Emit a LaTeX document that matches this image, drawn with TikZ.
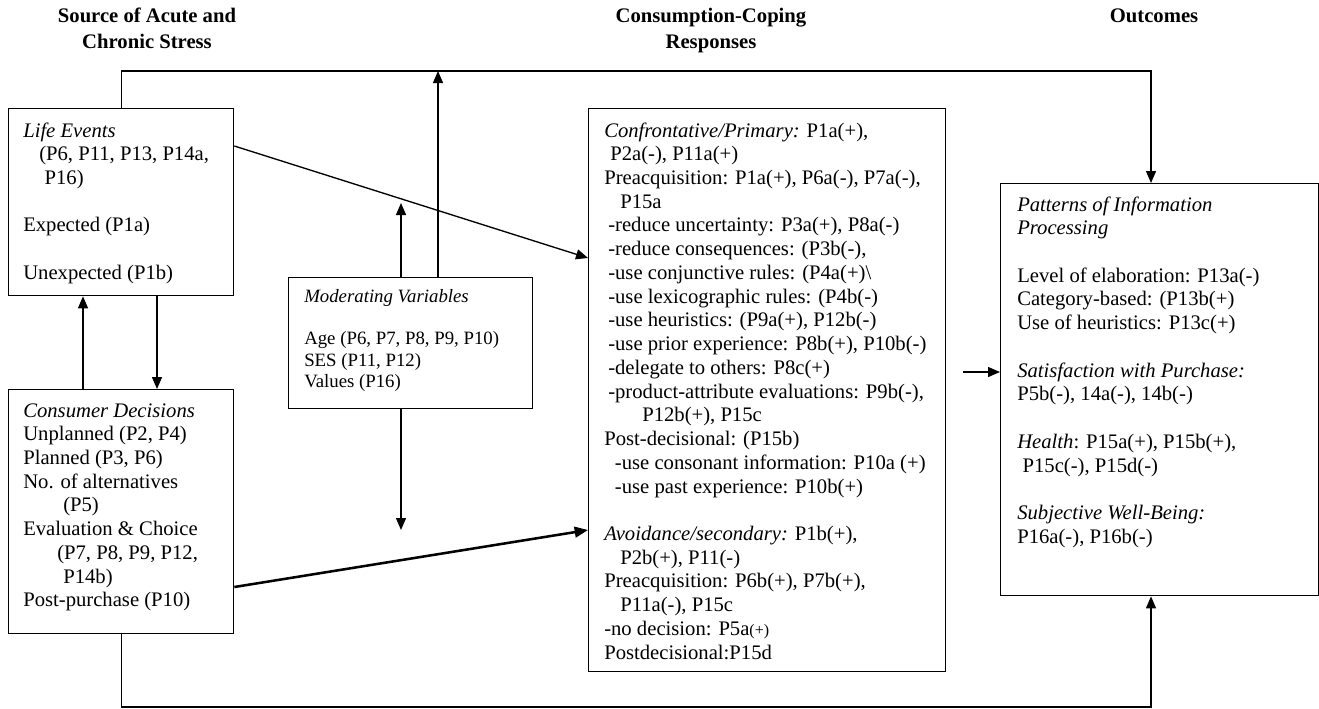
\documentclass[tikz,border=0pt]{standalone}
\usepackage{fontspec}
\setmainfont{Liberation Serif}
\usetikzlibrary{arrows.meta,calc}
\begin{document}
\begin{tikzpicture}[x=0.75pt,y=-0.75pt,
  boxnode/.style={draw=black,line width=1pt,inner sep=0pt,anchor=north west},
  txt/.style={anchor=base west,inner sep=0pt,font=\fontsize{15.5pt}{17.8pt}\selectfont},
  modtxt/.style={anchor=base west,inner sep=0pt,font=\fontsize{14.1pt}{16pt}\selectfont},
  head/.style={anchor=base,inner sep=0pt,font=\bfseries\fontsize{15.5pt}{19.5pt}\selectfont},
  conn/.style={line width=1pt},
  arr/.style={conn,-{Triangle[length=9pt,width=7.5pt]}},
  thickarr/.style={line width=1.9pt,-{Triangle[length=10pt,width=8pt]}}]
\useasboundingbox (0,0) rectangle (1319,708);

% headings
\node[head] (h1) at (147,22) {\begin{minipage}[t]{200pt}\centering Source of Acute and\\Chronic Stress\end{minipage}};
\node[head] (h2) at (711,22) {\begin{minipage}[t]{200pt}\centering Consumption-Coping\\Responses\end{minipage}};
\node[head] (h3) at (1154,22) {Outcomes};

% boxes
\node[boxnode,minimum width=168.75pt,minimum height=140.25pt] (life) at (8,108) {};
\node[boxnode,minimum width=168.75pt,minimum height=183pt] (cons) at (8,389) {};
\node[boxnode,minimum width=183pt,minimum height=98.25pt] (mod) at (288,277) {};
\node[boxnode,minimum width=267.75pt,minimum height=422.25pt] (cope) at (588,108) {};
\node[boxnode,minimum width=238.5pt,minimum height=309pt] (rbox) at (1000,183) {};

% box texts
\node[txt] (lifetxt) at (23,137) {\begin{minipage}[t]{160pt}\raggedright
\textit{Life Events}\\
\hspace*{12pt}(P6, P11, P13, P14a,\\
\hspace*{16pt}P16)\\
\mbox{}\\
Expected (P1a)\\
\mbox{}\\
Unexpected (P1b)\end{minipage}};

\node[txt] (constxt) at (23,417) {\begin{minipage}[t]{160pt}\raggedright
\textit{Consumer Decisions}\\
Unplanned (P2, P4)\\
Planned (P3, P6)\\
No. of alternatives\\
\hspace*{30pt}(P5)\\
Evaluation \& Choice\\
\hspace*{25.5pt}(P7, P8, P9, P12,\\
\hspace*{30pt}P14b)\\
Post-purchase (P10)\end{minipage}};

\node[modtxt] (modtxt) at (304,302) {\begin{minipage}[t]{175pt}\raggedright
\textit{Moderating Variables}\\
\mbox{}\\
Age (P6, P7, P8, P9, P10)\\
SES (P11, P12)\\
Values (P16)\end{minipage}};

\node[txt] (copetxt) at (604,137) {\begin{minipage}[t]{320pt}\raggedright
\textit{Confrontative/Primary:} P1a(+),\\
\hspace*{4.5pt}P2a(-), P11a(+)\\
Preacquisition: P1a(+), P6a(-), P7a(-),\\
\hspace*{12pt}P15a\\
\hspace*{3pt}-reduce uncertainty: P3a(+), P8a(-)\\
\hspace*{3pt}-reduce consequences: (P3b(-),\\
\hspace*{3pt}-use conjunctive rules: (P4a(+)\textbackslash\\
\hspace*{3pt}-use lexicographic rules: (P4b(-)\\
\hspace*{3pt}-use heuristics: (P9a(+), P12b(-)\\
\hspace*{3pt}-use prior experience: P8b(+), P10b(-)\\
\hspace*{3pt}-delegate to others: P8c(+)\\
\hspace*{3pt}-product-attribute evaluations: P9b(-),\\
\hspace*{28.5pt}P12b(+), P15c\\
Post-decisional: (P15b)\\
\hspace*{8pt}-use consonant information: P10a (+)\\
\hspace*{8pt}-use past experience: P10b(+)\\
\mbox{}\\
\textit{Avoidance/secondary:} P1b(+),\\
\hspace*{12pt}P2b(+), P11(-)\\
Preacquisition: P6b(+), P7b(+),\\
\hspace*{12pt}P11a(-), P15c\\
-no decision: P5a{\fontsize{12pt}{12pt}\selectfont(+)}\\
Postdecisional:P15d\end{minipage}};

\node[txt] (rtxt) at (1017,211) {\begin{minipage}[t]{230pt}\raggedright
\textit{Patterns of Information}\\
\textit{Processing}\\
\mbox{}\\
Level of elaboration: P13a(-)\\
Category-based: (P13b(+)\\
Use of heuristics: P13c(+)\\
\mbox{}\\
\textit{Satisfaction with Purchase:}\\
P5b(-), 14a(-), 14b(-)\\
\mbox{}\\
\textit{Health}: P15a(+), P15b(+),\\
\hspace*{4pt}P15c(-), P15d(-)\\
\mbox{}\\
\textit{Subjective Well-Being:}\\
P16a(-), P16b(-)\end{minipage}};

% coordinates for free ends / bends
\coordinate (tr) at (1151,71);
\coordinate (mt) at (438,71);
\coordinate (m1) at (401,203);
\coordinate (m2) at (401,530);
\coordinate (lu) at (83,0);
\coordinate (ld) at (157,0);
\coordinate (ra) at (963,372);
\coordinate (br) at (1151,707);

% connectors
\draw[arr] (life.north) |- (tr) -- (tr |- rbox.north);
\draw[arr] (mt |- mod.north) -- (mt);
\draw[arr] (m1 |- mod.north) -- (m1);
\draw[arr] (m2 |- mod.south) -- (m2);
\draw[arr] ($(life.north east)+(0,38)$) -- ($(cope.north west)+(0,150)$);
\draw[thickarr] ($(cons.north east)+(0,198)$) -- ($(cope.north west)+(0,422)$);
\draw[arr] (lu |- cons.north) -- (lu |- life.south);
\draw[arr] (ld |- life.south) -- (ld |- cons.north);
\draw[arr] (ra) -- (ra -| rbox.west);
\draw[arr] (cons.south) |- (br) -- (br |- rbox.south);
\end{tikzpicture}
\end{document}
